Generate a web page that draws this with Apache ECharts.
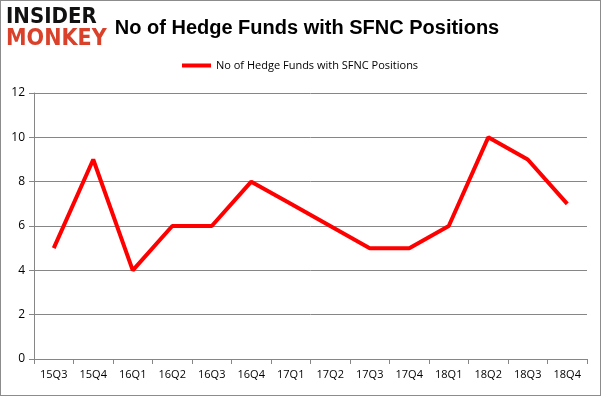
<!DOCTYPE html>
<html>
<head>
<meta charset="utf-8">
<script src="https://cdn.jsdelivr.net/npm/echarts@6/dist/echarts.min.js"></script>
<style>
  html, body { margin: 0; padding: 0; background: #fff; }
  #chart { width: 601px; height: 396px; box-sizing: border-box; border: 1px solid #8c8c8c; }
</style>
</head>
<body>
<div id="chart"></div>
<script>
// quarters on the x axis
var quarters = ["15Q3", "15Q4", "16Q1", "16Q2", "16Q3", "16Q4", "17Q1", "17Q2", "17Q3", "17Q4", "18Q1", "18Q2", "18Q3", "18Q4"];
// number of hedge funds holding SFNC
var fundCounts = [5, 9, 4, 6, 6, 8, 7, 6, 5, 5, 6, 10, 9, 7];
var seriesName = "No of Hedge Funds with SFNC Positions";

var chart = echarts.init(document.getElementById("chart"), null, { renderer: "canvas" });

chart.setOption({
  animation: false,
  textStyle: { fontFamily: "Open Sans, Liberation Sans, Arial, sans-serif" },
  title: {
    text: seriesName,
    left: 301,
    top: 12,
    textAlign: "center",
    textStyle: { fontSize: 20, fontWeight: "bold", color: "#000", fontFamily: "Liberation Sans, Arial, sans-serif" }
  },
  graphic: [
    {
      type: "text", left: 5, top: 5,
      style: { text: "INSIDER", fill: "#111", font: "900 22px 'DejaVu Sans Condensed', 'DejaVu Sans', sans-serif" }
    },
    {
      type: "text", left: 5, top: 27,
      style: { text: "MONKEY", fill: "#d9412b", font: "900 23px 'DejaVu Sans Condensed', 'DejaVu Sans', sans-serif" }
    }
  ],
  legend: {
    top: 54,
    left: 176,
    itemWidth: 29,
    itemHeight: 4,
    itemGap: 4,
    icon: "rect",
    textStyle: { fontSize: 11, color: "#000", fontFamily: "Open Sans, sans-serif" },
    data: [seriesName]
  },
  grid: { left: 33, right: 13, top: 92, bottom: 36 },
  xAxis: {
    type: "category",
    data: quarters,
    boundaryGap: true,
    axisLine: { lineStyle: { color: "#868686" } },
    axisTick: { show: true, alignWithLabel: false, length: 5, lineStyle: { color: "#868686" } },
    axisLabel: { color: "#000", fontSize: 11, margin: 10, fontFamily: "Open Sans, sans-serif" }
  },
  yAxis: {
    type: "value",
    min: 0,
    max: 12,
    interval: 2,
    axisLine: { show: true, lineStyle: { color: "#868686" } },
    axisTick: { show: true, length: 5, lineStyle: { color: "#868686" } },
    axisLabel: { color: "#000", fontSize: 12, margin: 9, fontFamily: "Open Sans, sans-serif" },
    splitLine: { lineStyle: { color: "#868686" } }
  },
  series: [{
    name: seriesName,
    type: "line",
    data: fundCounts,
    showSymbol: false,
    symbol: "none",
    lineStyle: { color: "#ff0000", width: 4 },
    itemStyle: { color: "#ff0000" }
  }]
});
</script>
</body>
</html>
